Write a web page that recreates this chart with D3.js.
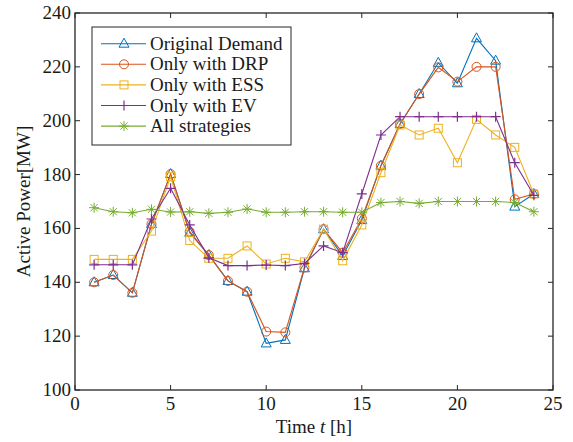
<!DOCTYPE html>
<html>
<head>
<meta charset="utf-8">
<script src="https://cdn.jsdelivr.net/npm/d3@7"></script>
<style>
body { margin: 0; background: #fff; }
</style>
</head>
<body>
<div id="chart"></div>
<script>
var hours = [1,2,3,4,5,6,7,8,9,10,11,12,13,14,15,16,17,18,19,20,21,22,23,24];
var original = [140,142.7,136.1,161.6,180.2,158.4,150.1,140.5,136.5,117.3,118.6,145.2,159.7,149.8,163.1,183.3,198.8,209.9,221.5,213.9,230.6,222.3,168.1,172.8];
var onlyDRP = [140,142.7,136.1,161.6,180.2,158.8,150.1,140.5,136.5,121.7,121.4,145.5,159.7,151,163.7,183.3,198.8,209.9,219.8,214.5,220,220,170.8,172.8];
var onlyESS = [148.5,148.5,148.5,159,179.2,155.5,148.9,148.9,153.5,146.8,148.9,147.6,159.7,148,161.3,180.7,198.4,194.7,197.2,184.4,200.5,194.7,190.1,172.8];
var onlyEV = [146.5,146.5,146.5,163.5,174.9,161.3,149.1,146.2,146.2,146.4,146.2,147,153.5,151,172.8,194.7,201.5,201.5,201.5,201.5,201.5,201.5,184.4,172.3];
var allStrat = [167.7,166.2,165.8,167.1,166.1,166.2,165.6,166,167.2,166,166,166.2,166.2,166,166,169.6,170,169.3,170,170,170,170,169.6,166.2];
var seriesNames = ["Original Demand","Only with DRP","Only with ESS","Only with EV","All strategies"];
var xTicks = [0,5,10,15,20,25];
var yTicks = [100,120,140,160,180,200,220,240];

var series = [
  {name: seriesNames[0], values: original, color: "#0072BD", marker: "triangle"},
  {name: seriesNames[1], values: onlyDRP, color: "#D95319", marker: "circle"},
  {name: seriesNames[2], values: onlyESS, color: "#EDB120", marker: "square"},
  {name: seriesNames[3], values: onlyEV, color: "#7E2F8E", marker: "plus"},
  {name: seriesNames[4], values: allStrat, color: "#77AC30", marker: "star"}
];

var width = 573, height = 442;
var margin = {left: 75, right: 20, top: 13, bottom: 52};
var font = "'Liberation Serif', 'Times New Roman', 'DejaVu Serif', serif";
var fontSize = "19px";
var textColor = "#1a1a1a";

var svg = d3.select("#chart").append("svg")
    .attr("width", width)
    .attr("height", height);

var x = d3.scaleLinear().domain([0,25]).range([margin.left, width - margin.right]);
var y = d3.scaleLinear().domain([100,240]).range([height - margin.bottom, margin.top]);

var axisColor = "#262626";
var tickLen = 5;

// box frame
svg.append("rect")
    .attr("x", x(0)).attr("y", y(240))
    .attr("width", x(25) - x(0)).attr("height", y(100) - y(240))
    .attr("fill", "none").attr("stroke", axisColor).attr("stroke-width", 1.3);

// ticks (inward, all four sides)
var g = svg.append("g").attr("stroke", axisColor).attr("stroke-width", 1);
xTicks.forEach(function(t){
    g.append("line").attr("x1", x(t)).attr("x2", x(t)).attr("y1", y(100)).attr("y2", y(100) - tickLen);
    g.append("line").attr("x1", x(t)).attr("x2", x(t)).attr("y1", y(240)).attr("y2", y(240) + tickLen);
});
yTicks.forEach(function(t){
    g.append("line").attr("y1", y(t)).attr("y2", y(t)).attr("x1", x(0)).attr("x2", x(0) + tickLen);
    g.append("line").attr("y1", y(t)).attr("y2", y(t)).attr("x1", x(25)).attr("x2", x(25) - tickLen);
});

svg.append("g").selectAll("text").data(xTicks).enter().append("text")
    .attr("x", function(d){ return x(d); })
    .attr("y", y(100) + 20)
    .attr("text-anchor", "middle")
    .attr("font-family", font)
    .style("font-size", fontSize)
    .attr("fill", textColor)
    .text(function(d){ return d; });

svg.append("g").selectAll("text").data(yTicks).enter().append("text")
    .attr("x", x(0) - 4)
    .attr("y", function(d){ return y(d) + 6; })
    .attr("text-anchor", "end")
    .attr("font-family", font)
    .style("font-size", fontSize)
    .attr("fill", textColor)
    .text(function(d){ return d; });

// axis titles
var xt = svg.append("text")
    .attr("x", (x(0) + x(25)) / 2)
    .attr("y", 433)
    .attr("text-anchor", "middle")
    .attr("font-family", font)
    .style("font-size", fontSize)
    .attr("fill", textColor);
xt.append("tspan").text("Time ");
xt.append("tspan").style("font-style", "italic").text("t");
xt.append("tspan").text(" [h]");

svg.append("text")
    .attr("transform", "translate(30," + ((y(100) + y(240)) / 2) + ") rotate(-90)")
    .attr("text-anchor", "middle")
    .attr("font-family", font)
    .style("font-size", fontSize)
    .attr("fill", textColor)
    .text("Active Power[MW]");

// marker drawing
function drawMarker(sel, type, color) {
    if (type == "triangle") {
        sel.append("path").attr("d", "M0,-5.5L5,3.5L-5,3.5Z")
            .attr("fill", "none").attr("stroke", color).attr("stroke-width", 1);
    } else if (type == "circle") {
        sel.append("circle").attr("r", 4.5)
            .attr("fill", "none").attr("stroke", color).attr("stroke-width", 1);
    } else if (type == "square") {
        sel.append("rect").attr("x", -4).attr("y", -4).attr("width", 8).attr("height", 8)
            .attr("fill", "none").attr("stroke", color).attr("stroke-width", 1);
    } else if (type == "plus") {
        sel.append("path").attr("d", "M-5,0H5M0,-5V5")
            .attr("stroke", color).attr("stroke-width", 1.2);
    } else if (type == "star") {
        sel.append("path").attr("d", "M-5,0H5M0,-5V5M-3.6,-3.6L3.6,3.6M-3.6,3.6L3.6,-3.6")
            .attr("stroke", color).attr("stroke-width", 1);
    }
}

var line = d3.line()
    .x(function(d, i){ return x(hours[i]); })
    .y(function(d){ return y(d); });

series.forEach(function(s){
    svg.append("path")
        .datum(s.values)
        .attr("d", line)
        .attr("fill", "none")
        .attr("stroke", s.color)
        .attr("stroke-width", 1.1);
    s.values.forEach(function(v, i){
        var m = svg.append("g").attr("transform", "translate(" + x(hours[i]) + "," + y(v) + ")");
        drawMarker(m, s.marker, s.color);
    });
});

// legend
var lg = svg.append("g").attr("transform", "translate(92,27)");
lg.append("rect")
    .attr("x", 0).attr("y", 0).attr("width", 199).attr("height", 118)
    .attr("fill", "#fff").attr("stroke", axisColor).attr("stroke-width", 1);
series.forEach(function(s, i){
    var cy = 16.7 + i * 20.6;
    lg.append("line").attr("x1", 9).attr("x2", 54).attr("y1", cy).attr("y2", cy)
        .attr("stroke", s.color).attr("stroke-width", 1.1);
    var m = lg.append("g").attr("transform", "translate(32," + cy + ")");
    drawMarker(m, s.marker, s.color);
    lg.append("text").attr("x", 58).attr("y", cy + 6)
        .attr("font-family", font)
        .style("font-size", fontSize)
        .attr("fill", textColor)
        .text(s.name);
});
</script>
</body>
</html>
